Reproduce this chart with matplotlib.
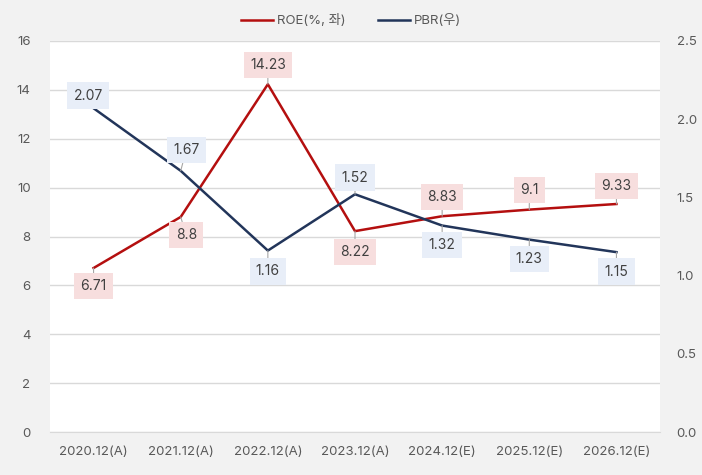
import matplotlib.pyplot as plt

plt.rcParams['font.family'] = ['Inter', 'Noto Sans CJK KR', 'DejaVu Sans']

# data
periods = ['2020.12(A)', '2021.12(A)', '2022.12(A)', '2023.12(A)',
           '2024.12(E)', '2025.12(E)', '2026.12(E)']
roe = [6.71, 8.8, 14.23, 8.22, 8.83, 9.1, 9.33]
pbr = [2.07, 1.67, 1.16, 1.52, 1.32, 1.23, 1.15]

# label offsets in points (dx, dy)
roe_off = [(0, -13), (4, -13), (0, 14), (0, -15), (0, 14), (0, 14), (0, 13)]
pbr_off = [(-4, 9), (4, 15), (0, -15), (0, 12), (0, -14), (0, -14), (0, -14)]

red = '#b40f0f'
navy = '#22355a'
txt = '#404040'

fig = plt.figure(figsize=(7.02, 4.75), dpi=100, facecolor='#f2f2f2')
ax = fig.add_axes([0.0712, 0.0905, 0.869, 0.8232])
ax.set_facecolor('white')
ax2 = ax.twinx()

x = list(range(len(periods)))
l1, = ax.plot(x, roe, color=red, lw=1.8, label='ROE(%, 좌)')
l2, = ax2.plot(x, pbr, color=navy, lw=1.8, label='PBR(우)')

ax.set_xlim(-0.5, len(periods) - 0.5)
ax.set_ylim(0, 16)
ax.set_yticks(range(0, 17, 2))
ax2.set_ylim(0, 2.5)
ax2.set_yticks([0, 0.5, 1.0, 1.5, 2.0, 2.5])
ax2.set_yticklabels(['0.0', '0.5', '1.0', '1.5', '2.0', '2.5'])
ax.set_xticks(x)
ax.set_xticklabels(periods)

ax.grid(axis='y', color='#d9d9d9', lw=1)
ax.set_axisbelow(True)
for a in (ax, ax2):
    for s in a.spines.values():
        s.set_visible(False)
    a.tick_params(length=0, labelsize=9.5, colors='#595959')
ax.spines['bottom'].set_visible(True)
ax.spines['bottom'].set_color('#d9d9d9')
ax.tick_params(axis='y', pad=14)
ax.tick_params(axis='x', pad=10)
ax2.tick_params(axis='y', pad=12)

for i, v in enumerate(roe):
    ax.annotate(str(v), (i, v), xytext=roe_off[i], textcoords='offset points',
                ha='center', va='center', fontsize=10, color=txt,
                bbox=dict(boxstyle='square,pad=0.45', fc='#f7dede', ec='none'),
                arrowprops=dict(arrowstyle='-', color='#a6a6a6', lw=0.8,
                                shrinkA=0, shrinkB=0))
for i, v in enumerate(pbr):
    ax2.annotate(str(v), (i, v), xytext=pbr_off[i], textcoords='offset points',
                 ha='center', va='center', fontsize=10, color=txt,
                 bbox=dict(boxstyle='square,pad=0.45', fc='#e8eef8', ec='none'),
                 arrowprops=dict(arrowstyle='-', color='#a6a6a6', lw=0.8,
                                 shrinkA=0, shrinkB=0))

fig.legend(handles=[l1, l2], loc='upper center', bbox_to_anchor=(0.5, 0.995),
           ncol=2, frameon=False, fontsize=9.5, labelcolor='#595959',
           handlelength=2.4, handletextpad=0.3, columnspacing=2.5)

fig.savefig('out.png', dpi=100, facecolor=fig.get_facecolor())
